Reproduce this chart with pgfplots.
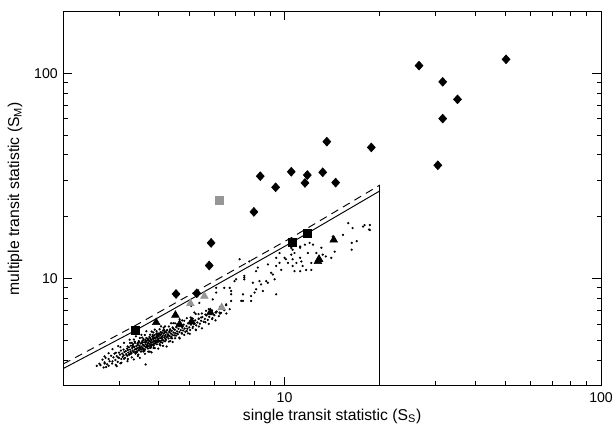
\documentclass[border=0pt]{standalone}
\usepackage{pgfplots}
\pgfplotsset{compat=1.18}
\usepackage{fontspec}
\setmainfont{Liberation Sans}
\begin{document}
\begin{tikzpicture}
\begin{axis}[
  name=ax,
  scale only axis,
  width=342.1pt, height=238.1pt,
  xmode=log, ymode=log,
  xmin=2, xmax=100, ymin=3, ymax=200,
  xtick={10,100}, xticklabels={10,100},
  minor xtick={3,4,5,6,7,8,9,20,30,40,50,60,70,80,90},
  ytick={10,100}, yticklabels={10,100},
  minor ytick={4,5,6,7,8,9,20,30,40,50,60,70,80,90},
  major tick length=5.5pt, minor tick length=2.8pt,
  tick style={black, line width=0.5pt},
  axis line style={line width=0.7pt},
  ticklabel style={font=\fontsize{9}{10}\selectfont},
  xticklabel style={yshift=-1pt},
  label style={font=\fontsize{10}{12}\selectfont},
  xlabel={single transit statistic (S\textsubscript{S})},
  ylabel={multiple transit statistic (S\textsubscript{M})},
  every axis x label/.style={at={(axis description cs:0.5,-0.082)}, anchor=center},
  every axis y label/.style={at={(axis description cs:-0.0897,0.5)}, rotate=90, anchor=center},
  clip=true,
]
% faint population of small dots
\addplot[only marks, mark=*, mark size=0.5pt, mark options={draw=none, fill=black}] table {
x y
2.55 3.75
2.60 3.84
2.62 3.78
2.66 4.02
2.68 3.68
2.70 3.90
2.70 3.85
2.70 4.17
2.72 4.10
2.73 3.70
2.75 3.82
2.78 4.05
2.78 3.75
2.78 4.32
2.80 3.95
2.83 4.20
2.85 3.85
2.86 3.94
2.86 4.52
2.88 4.12
2.90 4.30
2.92 4.00
2.93 3.79
2.93 4.34
2.95 4.18
2.95 3.74
2.97 3.92
2.98 4.12
2.98 4.68
3.00 4.35
3.00 4.10
3.02 4.25
3.03 3.86
3.03 4.63
3.04 4.45
3.05 4.05
3.05 3.88
3.07 4.30
3.08 4.15
3.10 4.50
3.10 4.22
3.11 4.06
3.11 4.85
3.12 4.38
3.13 4.10
3.15 4.42
3.16 4.28
3.17 4.22
3.18 4.55
3.19 4.20
3.19 3.95
3.19 4.66
3.20 4.48
3.20 4.05
3.21 4.35
3.22 4.62
3.23 4.25
3.24 5.03
3.24 4.27
3.25 4.50
3.25 4.85
3.26 4.40
3.27 4.70
3.27 4.30
3.28 4.32
3.29 4.12
3.29 4.85
3.30 4.58
3.31 4.45
3.31 4.70
3.32 4.78
3.33 4.38
3.34 4.66
3.34 4.03
3.34 5.04
3.35 4.62
3.36 4.50
3.36 4.92
3.37 4.85
3.37 4.38
3.38 4.30
3.39 4.52
3.39 4.34
3.39 5.22
3.40 4.68
3.41 4.55
3.41 4.36
3.42 4.42
3.43 4.80
3.44 4.74
3.44 4.19
3.44 4.85
3.45 4.60
3.45 4.25
3.46 4.48
3.46 4.95
3.47 4.90
3.47 4.46
3.48 4.70
3.49 4.62
3.49 4.10
3.49 5.13
3.50 4.55
3.51 4.82
3.51 4.52
3.52 4.40
3.53 4.65
3.53 4.50
3.53 5.31
3.54 4.84
3.55 4.95
3.55 5.15
3.56 4.58
3.56 4.88
3.57 4.75
3.57 4.54
3.58 4.48
3.58 5.00
3.58 4.40
3.58 5.07
3.59 4.72
3.60 4.88
3.61 4.68
3.61 4.44
3.62 4.52
3.62 4.29
3.62 5.30
3.63 5.02
3.64 4.78
3.64 4.90
3.64 3.81
3.65 4.62
3.66 4.90
3.66 4.66
3.66 5.53
3.66 5.12
3.67 4.62
3.68 4.70
3.68 4.98
3.69 5.08
3.69 4.78
3.70 4.55
3.70 4.68
3.71 4.85
3.71 4.40
3.71 5.04
3.72 4.98
3.73 4.66
3.74 4.96
3.74 5.18
3.75 4.80
3.75 4.40
3.76 5.12
3.76 4.58
3.76 5.32
3.77 4.92
3.77 4.72
3.78 4.60
3.78 5.06
3.79 4.86
3.79 4.64
3.80 5.00
3.80 4.36
3.80 5.51
3.81 4.75
3.82 5.20
3.83 4.88
3.83 5.30
3.84 5.12
3.84 4.74
3.84 5.24
3.85 5.05
3.85 5.45
3.86 4.70
3.86 4.58
3.87 4.95
3.87 4.80
3.88 5.28
3.88 5.14
3.89 4.94
3.89 4.58
3.89 5.63
3.90 4.82
3.91 5.10
3.91 4.88
3.92 4.98
3.93 5.35
3.94 5.22
3.94 4.92
3.94 5.53
3.95 4.78
3.95 5.40
3.96 5.15
3.97 5.02
3.98 4.90
3.98 5.26
3.99 5.06
3.99 4.55
3.99 5.31
4.00 5.22
4.00 4.98
4.01 5.40
4.02 4.95
4.03 4.78
4.03 5.65
4.04 5.12
4.04 5.32
4.05 5.30
4.05 4.72
4.06 4.88
4.06 5.48
4.07 4.96
4.07 5.84
4.08 5.18
4.08 5.36
4.09 5.14
4.10 5.45
4.11 5.05
4.11 4.86
4.12 5.25
4.13 4.69
4.13 5.57
4.14 4.98
4.15 5.38
4.15 5.75
4.16 5.62
4.17 5.15
4.18 5.52
4.18 5.44
4.19 5.24
4.19 4.94
4.19 5.84
4.20 5.08
4.21 5.30
4.22 5.02
4.23 5.45
4.24 4.66
4.24 5.57
4.25 5.18
4.26 5.60
4.27 5.22
4.28 5.35
4.29 5.30
4.30 5.10
4.31 4.92
4.31 5.83
4.32 5.48
4.33 5.25
4.34 5.55
4.35 5.65
4.35 4.95
4.37 5.40
4.38 5.13
4.38 6.05
4.39 5.20
4.40 5.55
4.41 5.10
4.42 5.32
4.43 4.90
4.43 5.77
4.44 5.72
4.45 6.05
4.46 5.45
4.47 5.66
4.48 5.28
4.50 5.62
4.51 5.11
4.51 6.04
4.52 5.40
4.54 5.26
4.55 5.78
4.57 5.52
4.58 5.38
4.58 5.99
4.60 5.35
4.62 5.68
4.65 5.48
4.65 5.15
4.66 5.10
4.66 6.33
4.67 5.85
4.70 5.60
4.73 5.42
4.74 5.38
4.74 5.89
4.75 5.75
4.75 6.25
4.78 5.58
4.80 5.95
4.82 5.31
4.82 6.22
4.83 5.70
4.86 5.50
4.90 5.85
4.91 5.54
4.91 6.40
4.93 5.68
4.95 5.40
4.96 6.05
5.00 5.78
5.02 5.37
5.02 6.19
5.03 5.60
5.05 6.45
5.06 5.95
5.07 7.35
5.10 6.12
5.12 5.73
5.12 6.38
5.14 5.82
5.18 6.00
5.19 6.82
5.22 6.25
5.24 5.63
5.24 6.71
5.25 5.60
5.26 5.90
5.30 6.10
5.35 6.35
5.35 6.70
5.36 5.83
5.36 6.37
5.38 7.60
5.40 6.02
5.45 6.22
5.45 6.45
5.48 5.71
5.48 6.75
5.50 6.48
5.55 6.15
5.60 6.35
5.62 6.11
5.62 6.67
5.65 6.95
5.66 6.60
5.72 6.28
5.76 6.00
5.76 7.08
5.78 6.50
5.79 6.82
5.85 6.72
5.90 6.34
5.90 6.98
5.92 6.40
5.93 7.90
6.00 6.62
6.05 6.24
6.05 6.83
6.08 6.82
6.08 8.53
6.08 9.00
6.10 6.90
6.20 6.55
6.23 6.82
6.25 6.74
6.25 7.27
6.30 6.80
6.45 7.00
6.45 9.00
6.54 7.48
6.54 7.40
6.55 6.75
6.71 9.00
6.71 7.08
6.78 7.77
6.78 8.37
6.78 8.68
6.95 9.70
7.03 9.90
7.21 12.40
7.30 7.77
7.39 7.77
7.39 8.37
7.46 10.30
7.46 9.90
7.46 10.10
7.74 12.10
7.84 7.77
7.84 8.20
7.94 9.53
8.04 8.53
8.13 8.85
8.13 10.85
8.23 11.30
8.33 9.70
8.43 9.35
8.54 8.68
8.75 9.70
8.86 11.70
8.86 9.53
9.07 10.65
9.18 10.45
9.30 9.90
9.41 12.60
9.41 11.50
9.41 8.37
9.64 11.90
9.64 13.30
9.76 11.00
10.00 12.60
10.10 12.40
10.25 11.90
10.50 13.05
10.50 14.10
10.60 13.80
10.60 11.50
10.60 12.40
10.75 13.30
10.75 10.85
10.90 11.90
11.20 14.10
11.20 14.30
11.20 10.85
11.20 12.60
11.30 12.10
11.40 11.50
11.60 14.60
11.70 11.00
11.85 13.30
12.00 14.90
12.15 11.90
12.15 11.00
12.30 14.60
12.60 13.30
13.07 14.10
13.20 13.05
13.50 12.80
14.05 12.60
14.20 16.00
14.40 13.50
15.30 16.30
15.90 18.60
16.30 14.90
16.30 13.80
16.40 17.60
16.90 15.20
17.70 17.90
17.90 18.20
18.50 17.30
18.60 17.20
18.60 18.20
};
% threshold lines
\addplot[black, line width=0.6pt] coordinates {(2,3.64) (3.38,5.58) (10.55,15.0) (20,26.7)};
\addplot[black, line width=0.6pt, dash pattern=on 5pt off 3.5pt] coordinates {(2,3.83) (3.38,5.9) (10.55,15.85) (20,28.5)};
\addplot[black, line width=0.6pt] coordinates {(20,3) (20,28.5)};
% diamonds
\addplot[only marks, mark=diamond*, mark size=2.8pt, mark options={xscale=1.2, fill=black, draw=black}] coordinates {
(4.54,8.40) (5.28,8.46) (5.78,11.56) (5.86,14.9) (8.0,21.1) (8.38,31.5) (9.37,27.8)
(10.5,33.1) (11.6,29.2) (11.8,31.9) (13.2,32.9) (13.6,46.4) (14.5,29.3) (18.8,43.5)
(26.6,108.9) (31.6,90.8) (35.2,74.6) (31.6,60.1) (30.5,35.6) (50.1,116.9)};
% black squares
\addplot[only marks, mark=square*, mark size=2.5pt, mark options={fill=black, draw=black}] coordinates {
(3.38,5.56) (10.55,14.96) (11.77,16.6)};
% grey square
\addplot[only marks, mark=square*, mark size=2.5pt, mark options={fill={rgb,255:red,150;green,150;blue,150}, draw={rgb,255:red,150;green,150;blue,150}}] coordinates {
(6.23,24.1)};
% black triangles
\addplot[only marks, mark=triangle*, mark size=2.8pt, mark options={fill=black, draw=black}] coordinates {
(3.93,6.1) (4.52,6.62) (4.66,5.97) (5.09,6.15) (5.83,6.82) (12.75,12.1) (12.85,12.4) (14.3,15.4)};
% grey triangles
\addplot[only marks, mark=triangle*, mark size=2.8pt, mark options={fill={rgb,255:red,150;green,150;blue,150}, draw={rgb,255:red,150;green,150;blue,150}}] coordinates {
(5.04,7.55) (5.58,8.19) (6.33,7.21)};
\end{axis}
\pgfresetboundingbox
\path[use as bounding box] ([shift={(-40.3pt,-28.2pt)}]ax.south west) rectangle ([shift={(7.6pt,7.3pt)}]ax.north east);
\end{tikzpicture}
\end{document}
